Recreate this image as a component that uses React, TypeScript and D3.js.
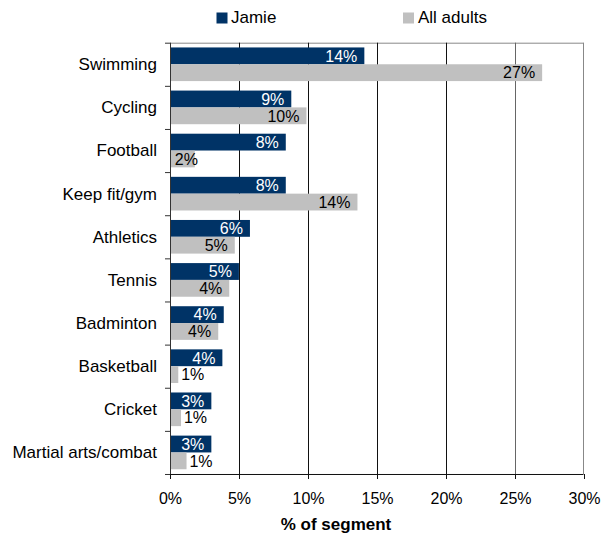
import * as d3 from "d3"

const categories = [
  "Swimming",
  "Cycling",
  "Football",
  "Keep fit/gym",
  "Athletics",
  "Tennis",
  "Badminton",
  "Basketball",
  "Cricket",
  "Martial arts/combat",
]
const jamie = [14.1, 8.8, 8.4, 8.4, 5.8, 5.0, 3.9, 3.8, 3.0, 3.0]
const allAdults = [27.0, 9.9, 1.8, 13.6, 4.7, 4.3, 3.5, 0.6, 0.8, 1.2]
const xTicks = [0, 5, 10, 15, 20, 25, 30]
const seriesNames = ["Jamie", "All adults"]
const colors = ["#003366", "#c0c0c0"]

const width = 612
const height = 533
const margin = { top: 42.7, right: 28.5, bottom: 59, left: 170 }

export default function App() {
  const innerW = width - margin.left - margin.right
  const innerH = height - margin.top - margin.bottom

  const x = d3.scaleLinear().domain([0, 30]).range([0, innerW])
  const y = d3.scaleBand().domain(categories).range([0, innerH]).paddingInner(0.22).paddingOuter(0.11)
  const sub = d3.scaleBand().domain(seriesNames).range([0, y.bandwidth()])
  const step = y.step()

  const font = "'Liberation Sans', Arial, sans-serif"

  // Excel-ish label placement: inside end, pushed out when the bar is too short
  const labelX = (bw: number, s: number) => {
    if (s === 0) return bw - 7
    if (bw < 20) return bw + 26
    return Math.max(bw - 7, 28)
  }

  return (
    <svg
      width={width}
      height={height}
      style={{ position: "absolute", left: 0, top: 0, background: "#fff" }}
      fontFamily={font}
    >
      {/* legend */}
      <g>
        <rect x={216.5} y={12.5} width={11} height={11} fill={colors[0]} />
        <text x={231} y={22.5} fontSize={17}>
          {seriesNames[0]}
        </text>
        <rect x={403} y={12.5} width={11} height={11} fill={colors[1]} />
        <text x={418} y={22.5} fontSize={17}>
          {seriesNames[1]}
        </text>
      </g>

      <g transform={`translate(${margin.left},${margin.top})`}>
        {/* plot border */}
        <line x1={0} x2={innerW} y1={0.5} y2={0.5} stroke="#888" />
        <line x1={innerW} x2={innerW} y1={0} y2={innerH} stroke="#888" />

        {/* gridlines */}
        {xTicks.slice(1, -1).map((t) => (
          <line key={t} x1={Math.round(x(t)) + 0.5} x2={Math.round(x(t)) + 0.5} y1={0} y2={innerH} stroke={t === 25 ? "#666" : "#111"} />
        ))}

        {/* bars */}
        {categories.map((c, i) => {
          const y0 = y(c) ?? 0
          const vals = [jamie[i], allAdults[i]]
          return (
            <g key={c}>
              {vals.map((v, s) => {
                const by = y0 + (sub(seriesNames[s]) ?? 0)
                const bw = x(v)
                return (
                  <g key={s}>
                    <rect x={0} y={by} width={bw} height={sub.bandwidth()} fill={colors[s]} />
                    <text
                      x={labelX(bw, s)}
                      y={by + sub.bandwidth() / 2}
                      dy="0.36em"
                      textAnchor="end"
                      fontSize={16}
                      fill={s === 0 ? "#fff" : "#000"}
                    >
                      {Math.round(v)}%
                    </text>
                  </g>
                )
              })}
            </g>
          )
        })}

        {/* y axis */}
        <line x1={0.5} x2={0.5} y1={0} y2={innerH} stroke="#333" />
        {d3.range(categories.length + 1).map((k) => (
          <line key={k} x1={-5} x2={0} y1={k * step + 0.5} y2={k * step + 0.5} stroke="#333" />
        ))}
        {categories.map((c) => (
          <text
            key={c}
            x={-13}
            y={(y(c) ?? 0) - (step - y.bandwidth()) / 2 + step / 2}
            dy="0.35em"
            textAnchor="end"
            fontSize={17}
          >
            {c}
          </text>
        ))}

        {/* x axis */}
        <line x1={0} x2={innerW} y1={innerH + 0.5} y2={innerH + 0.5} stroke="#111" />
        {xTicks.map((t) => (
          <g key={t} transform={`translate(${Math.round(x(t)) + 0.5},${innerH})`}>
            <line y1={0} y2={5} stroke="#111" />
            <text y={30} textAnchor="middle" fontSize={16}>
              {t}%
            </text>
          </g>
        ))}
      </g>

      <text x={336} y={530} textAnchor="middle" fontSize={17} fontWeight="bold">
        % of segment
      </text>
    </svg>
  )
}
